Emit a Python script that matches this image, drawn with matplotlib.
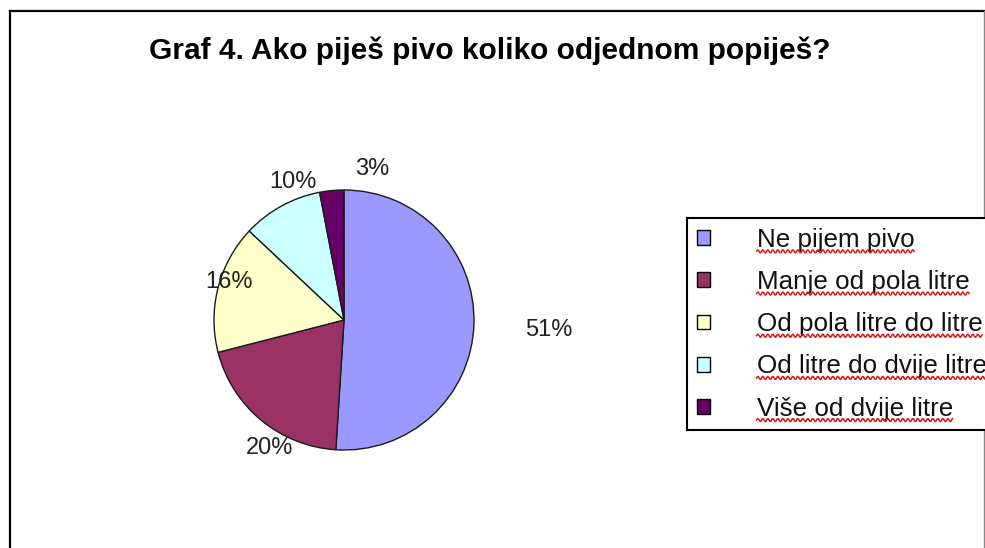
import numpy as np
import matplotlib
matplotlib.use("Agg")
import matplotlib.pyplot as plt
from matplotlib.lines import Line2D

plt.rcParams['font.family'] = ['Liberation Sans', 'DejaVu Sans']

title = "Graf 4. Ako piješ pivo koliko odjednom popiješ?"
categories = ["Ne pijem pivo", "Manje od pola litre", "Od pola litre do litre",
              "Od litre do dvije litre", "Više od dvije litre"]
values = [51, 20, 16, 10, 3]
colors = ["#9999FF", "#993366", "#FFFFCC", "#CCFFFF", "#660066"]

# label placement tweaks (distance in radii, angle nudge in degrees)
label_dist = [1.58, 1.14, 0.93, 1.13, 1.18]
label_nudge = [-1.0, 9.5, -4, -8.5, -16]

W, H = 985, 548
fig = plt.figure(figsize=(W / 100, H / 100), dpi=100)
fig.patch.set_facecolor("white")

cx, cy, r = 344, 320, 130
ax = fig.add_axes([(cx - r) / W, (H - cy - r) / H, 2 * r / W, 2 * r / H])
wedges, _ = ax.pie(values, colors=colors, startangle=90, counterclock=False,
                   wedgeprops=dict(edgecolor="#1a1a1a", linewidth=1.0))
ax.set_xlim(-1, 1)
ax.set_ylim(-1, 1)
ax.set_aspect("equal")
ax.axis("off")

for w, v, d, nd in zip(wedges, values, label_dist, label_nudge):
    ang = np.deg2rad((w.theta1 + w.theta2) / 2 + nd)
    ax.text(d * np.cos(ang), d * np.sin(ang), f"{v}%", ha="center", va="center",
            fontsize=17, color="#222222")

fig.text(490 / W, 1 - 51 / H, title, ha="center", va="center",
         fontsize=21.5, fontweight="bold", color="black")

leg = fig.legend(wedges, categories, loc="upper left",
                 bbox_to_anchor=(687 / W, 1 - 218 / H), bbox_transform=fig.transFigure,
                 fontsize=18.7, frameon=True, fancybox=False, framealpha=1,
                 edgecolor="black", borderpad=0.38, borderaxespad=0,
                 handlelength=0.5, handleheight=0.5, handletextpad=1.8,
                 labelspacing=0.7)
leg.get_frame().set_linewidth(1.5)
for t in leg.get_texts():
    t.set_color("#111111")
for h in leg.legend_handles:
    h.set_edgecolor("black")
    h.set_linewidth(1.0)

# outer chart frame
fig.add_artist(Line2D([10 / W, 10 / W], [0, 1 - 11 / H], transform=fig.transFigure,
                      color="black", linewidth=1.6))
fig.add_artist(Line2D([10 / W, 1], [1 - 11 / H, 1 - 11 / H], transform=fig.transFigure,
                      color="black", linewidth=1.6))
fig.add_artist(Line2D([984 / W, 984 / W], [0, 1 - 11 / H], transform=fig.transFigure,
                      color="#888888", linewidth=1.0))

# red wavy spell-check underlines beneath legend entries
fig.canvas.draw()
renderer = fig.canvas.get_renderer()
for t in leg.get_texts():
    bb = t.get_window_extent(renderer)
    xs = np.arange(bb.x0, min(bb.x1, W), 0.5)
    ys = bb.y0 + 0.5 + 1.5 * np.sin((xs - bb.x0) * 2 * np.pi / 5.0)
    fig.add_artist(Line2D(xs / W, ys / H, transform=fig.transFigure,
                          color="#d81818", linewidth=1.1, zorder=20))

fig.savefig("out.png", dpi=100)
